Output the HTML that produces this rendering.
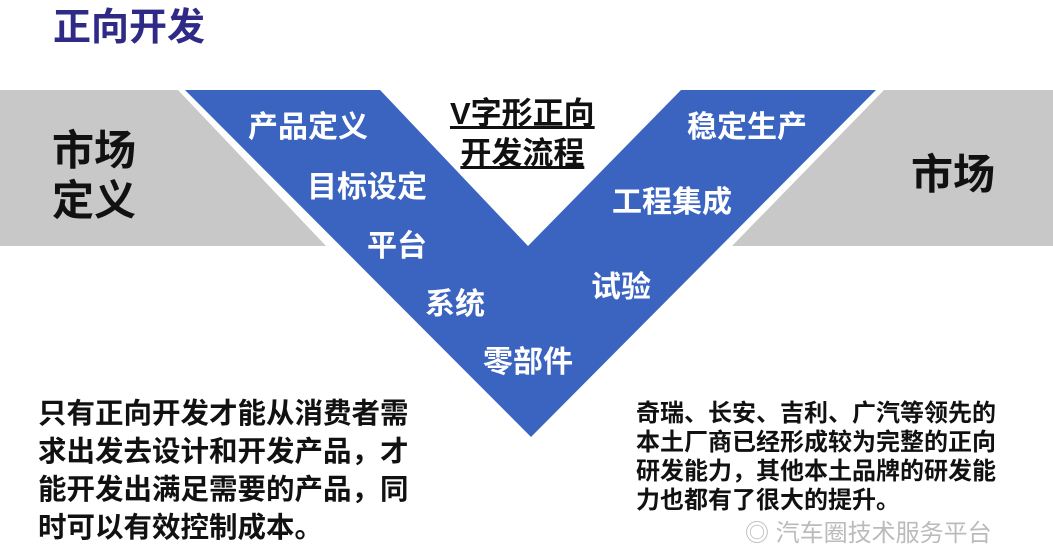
<!DOCTYPE html>
<html><head><meta charset="utf-8"><style>
body{margin:0;width:1053px;height:535px;overflow:hidden;background:#fff;position:relative;font-family:"Liberation Sans","Noto Sans CJK SC",sans-serif;font-weight:bold}
.t{position:absolute;white-space:nowrap;line-height:1}
.w{color:#fff;font-size:30px}
</style></head><body>
<svg width="1053" height="535" style="position:absolute;left:0;top:0">
<polygon points="0,90 178,90 326,246 0,246" fill="#c8c8c8"/>
<polygon points="884,90 1053,90 1053,246 732,246" fill="#c8c8c8"/>
<polygon points="185,90 380,90 528,246 681,90 876,90 531,437" fill="#3a64c0"/>
</svg>
<div class="t" style="left:53px;top:9px;font-size:38px;color:#2e2a86">正向开发</div>
<div class="t" style="left:52px;top:126px;font-size:42px;color:#111;line-height:50px">市场<br>定义</div>
<div class="t" style="left:911px;top:154px;font-size:42px;color:#111">市场</div>
<div class="t" style="left:450px;top:94px;font-size:31px;color:#111;text-decoration:underline;line-height:40px;text-align:center">V字形正向<br>开发流程</div>
<div class="t w" style="left:248px;top:113px">产品定义</div>
<div class="t w" style="left:307px;top:173px">目标设定</div>
<div class="t w" style="left:367px;top:232px">平台</div>
<div class="t w" style="left:425px;top:290px">系统</div>
<div class="t w" style="left:483px;top:348px">零部件</div>
<div class="t w" style="left:591px;top:273px">试验</div>
<div class="t w" style="left:612px;top:188px">工程集成</div>
<div class="t w" style="left:687px;top:113px">稳定生产</div>
<div class="t" style="left:38px;top:395px;font-size:28.5px;color:#111;line-height:38px">只有正向开发才能从消费者需<br>求出发去设计和开发产品，才<br>能开发出满足需要的产品，同<br>时可以有效控制成本。</div>
<div class="t" style="left:636px;top:399px;font-size:24px;color:#111;line-height:29px">奇瑞、长安、吉利、广汽等领先的<br>本土厂商已经形成较为完整的正向<br>研发能力，其他本土品牌的研发能<br>力也都有了很大的提升。</div>
<div class="t" style="left:745px;top:522px;font-size:24px;color:#bbb;font-weight:normal">◎ 汽车圈技术服务平台</div>
</body></html>
